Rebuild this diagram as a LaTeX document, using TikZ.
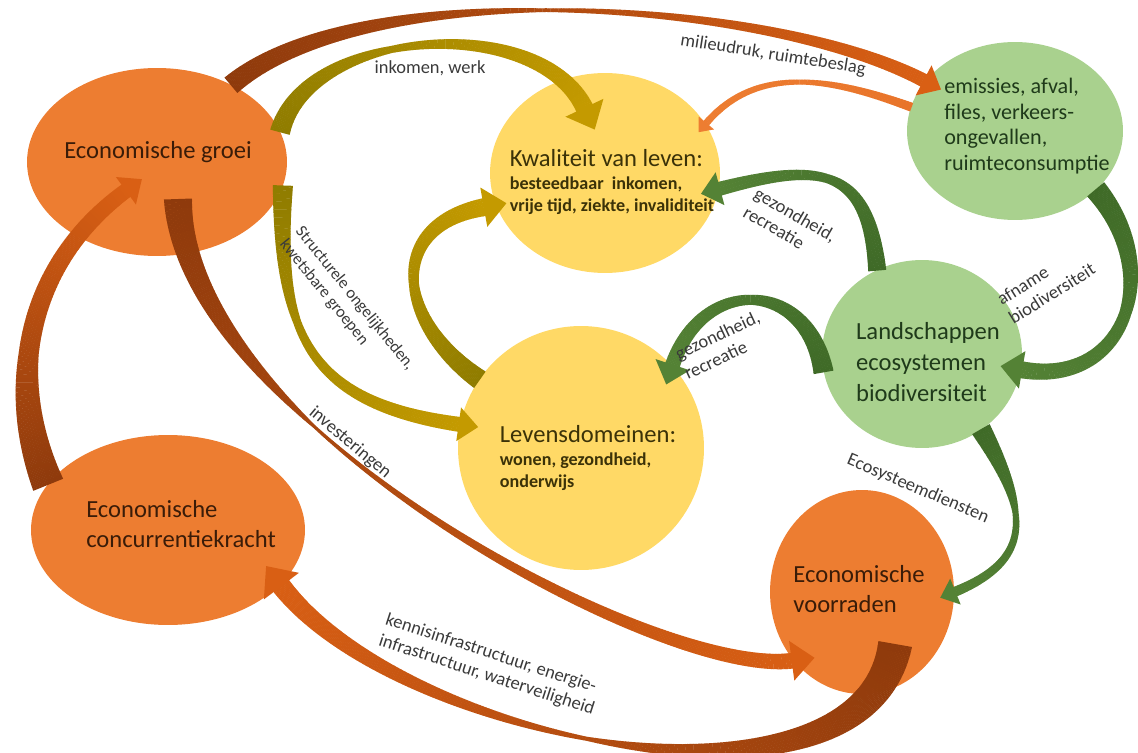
\documentclass[tikz,border=0pt]{standalone}
\usepackage{fontspec}
\setmainfont{Carlito}
\usetikzlibrary{shapes.geometric,decorations.markings}

\definecolor{econ}{HTML}{ED7D31}
\definecolor{life}{HTML}{FFD966}
\definecolor{nature}{HTML}{A9D18E}
\definecolor{arrleaf}{HTML}{548235}
\definecolor{arrleafdk}{HTML}{3F6A27}
\definecolor{arrgold}{HTML}{C49A00}
\definecolor{arrolive}{HTML}{8F7C00}
\definecolor{arrrust}{HTML}{D95F14}
\definecolor{arrbrown}{HTML}{8E3A0C}
\definecolor{arrorange}{HTML}{E8742A}
\definecolor{econtext}{HTML}{3A1C08}
\definecolor{lifetext}{HTML}{3B3208}
\definecolor{naturetext}{HTML}{1F3A1A}
\definecolor{labtext}{HTML}{3A3A3A}

\newcommand\subline{\fontsize{10.3}{12.5}\selectfont\bfseries}

\tikzset{
  blob/.style={ellipse, inner sep=0pt},
  bigtext/.style={font=\fontsize{14}{17.5}\selectfont, align=left, inner sep=0pt},
  lab/.style={font=\fontsize{10.5}{12.5}\selectfont, text=labtext, align=left, inner sep=0pt},
  flow/.style n args={7}{
    postaction={decorate, decoration={markings,
      mark=between positions 0 and 1 step 0.9pt with {
        \pgfmathsetmacro\flowt{\pgfkeysvalueof{/pgf/decoration/mark info/distance from start}/\pgfdecoratedpathlength}
        \pgfmathsetmacro\floww{\flowt<#5 ? #3+(#4-#3)*\flowt/#5 : #4+(#6-#4)*(\flowt-#5)/(1-#5)}
        \pgfmathtruncatemacro\flowp{100*(1-\flowt)}
        \fill[#1!\flowp!#2] (-1,-\floww) rectangle (1,\floww);
      }}},
    postaction={decorate, decoration={markings,
      mark=at position 0.999 with {\fill[#2] (-1,-#7) -- ({1.1*#7},0) -- (-1,#7) -- cycle;}}},
  },
}

\begin{document}
\begin{tikzpicture}[x=0.02cm, y=0.02cm]
  \useasboundingbox (0,0) rectangle (1138,-753);

  \node[blob, fill=econ, minimum width=5.2cm, minimum height=3.76cm,
    label={[bigtext, text=econtext, xshift=0.02cm, yshift=0.2cm]center:{Economische groei}}] (groei) at (157,-162) {};
  \node[blob, fill=econ, minimum width=5.48cm, minimum height=3.8cm,
    label={[bigtext, text=econtext, xshift=0.26cm, yshift=0.12cm]center:{Economische\\concurrentiekracht}}] (conc) at (168,-530) {};
  \node[blob, fill=econ, minimum width=3.68cm, minimum height=4.08cm,
    label={[bigtext, text=econtext, xshift=-0.06cm, yshift=0.06cm]center:{Economische\\voorraden}}] (voor) at (862,-592) {};
  \node[blob, fill=life, minimum width=4.6cm, minimum height=4cm,
    label={[bigtext, font=\fontsize{14}{12.8}\selectfont, text=lifetext, xshift=0.14cm, yshift=-0.18cm]center:{Kwaliteit van leven:\\\subline besteedbaar\ \ inkomen,\\\subline vrije tijd, ziekte, invaliditeit}}] (kwal) at (605,-173) {};
  \node[blob, fill=life, minimum width=4.92cm, minimum height=4.88cm,
    label={[bigtext, font=\fontsize{14}{12.8}\selectfont, text=lifetext, xshift=0.14cm, yshift=-0.2cm]center:{Levensdomeinen:\\\subline wonen, gezondheid,\\\subline onderwijs}}] (leven) at (581,-448) {};
  \node[blob, fill=nature, minimum width=4.32cm, minimum height=3.56cm,
    label={[bigtext, font=\fontsize{12.6}{14.6}\selectfont, text=naturetext, xshift=0.24cm, yshift=0.1cm]center:{emissies, afval,\\files, verkeers-\\ongevallen,\\ruimteconsumptie}}] (emis) at (1015,-131) {};
  \node[blob, fill=nature, minimum width=4cm, minimum height=3.76cm,
    label={[bigtext, text=naturetext, xshift=0.12cm, yshift=-0.16cm]center:{Landschappen\\ecosystemen\\biodiversiteit}}] (land) at (922,-354) {};

  \path[flow={arrolive}{arrgold}{10}{3.5}{.4}{9}{21}]
    (groei.14) to[out=75, in=115, looseness=.9] ([shift={(-20,64)}]kwal.center);
  \path[flow={arrbrown}{arrrust}{10}{1.8}{.45}{7}{17}]
    (groei.46) to[out=40, in=152, looseness=.64] (emis.151);
  \path[flow={arrolive}{arrgold}{10}{4}{.4}{7.5}{17}]
    (groei.-11) to[out=-92, in=172, looseness=1.3] (leven.169);
  \path[flow={arrolive}{arrgold}{10}{5}{.5}{9}{20}]
    (leven.146) to[out=145, in=-170, looseness=1.5] ([shift={(-120,-34)}]kwal.center);
  \path[flow={arrorange}{econ}{4.5}{2.5}{.5}{3.5}{10}]
    (emis.167) to[out=160, in=50] (kwal.26);
  \path[flow={arrleafdk}{arrleaf}{9}{4.5}{.5}{7}{17}]
    (land.118) to[out=95, in=15, looseness=1.5] (kwal.-8);
  \path[flow={arrleafdk}{arrleaf}{10}{5}{.5}{7.5}{18}]
    (land.190) to[out=100, in=72, looseness=1.6] (leven.42);
  \path[flow={arrleafdk}{arrleaf}{11}{6}{.5}{8.5}{19}]
    (emis.-36) to[out=-50, in=-10, looseness=1.4] (land.-9);
  \path[flow={arrleafdk}{arrleaf}{10}{3}{.45}{5}{14}]
    (land.-52) to[out=-60, in=22, looseness=1.4] (voor.0);
  \path[flow={arrbrown}{arrrust}{16}{10}{.4}{7.5}{17}]
    (conc.159) to[out=112, in=-144] ([shift={(-30,-28)}]groei.center);
  \path[flow={arrbrown}{arrrust}{14}{1.5}{.33}{8}{20}]
    ([shift={(21,-38)}]groei.center) to[out=-88, in=188, out looseness=.75, in looseness=.45] (voor.225);
  \path[flow={arrbrown}{arrrust}{17}{2}{.5}{10}{22}]
    ([shift={(33,-53)}]voor.center) to[out=-100, in=-53, looseness=.8] (conc.-26);

  \node[lab] (tInkomen) at (430,-68) {inkomen, werk};
  \node[lab, rotate=-9] (tMilieu) at (773,-55) {milieudruk, ruimtebeslag};
  \node[lab, font=\fontsize{9.5}{11.5}\selectfont, rotate=-51] (tStruct) at (347,-305) {Structurele ongelijkheden,\\kwetsbare groepen};
  \node[lab, rotate=-40] (tInvest) at (350,-443) {investeringen};
  \node[lab, rotate=-18] (tKennis) at (490,-665) {kennisinfrastructuur, energie-\\infrastructuur, waterveiligheid};
  \node[lab, rotate=-30] (tGezA) at (790,-224) {gezondheid,\\recreatie};
  \node[lab, rotate=25] (tGezB) at (722,-345) {gezondheid,\\recreatie};
  \node[lab, rotate=32] (tAfname) at (1046,-284) {afname\\biodiversiteit};
  \node[lab, rotate=-23] (tEco) at (918,-489) {Ecosysteemdiensten};
\end{tikzpicture}
\end{document}
